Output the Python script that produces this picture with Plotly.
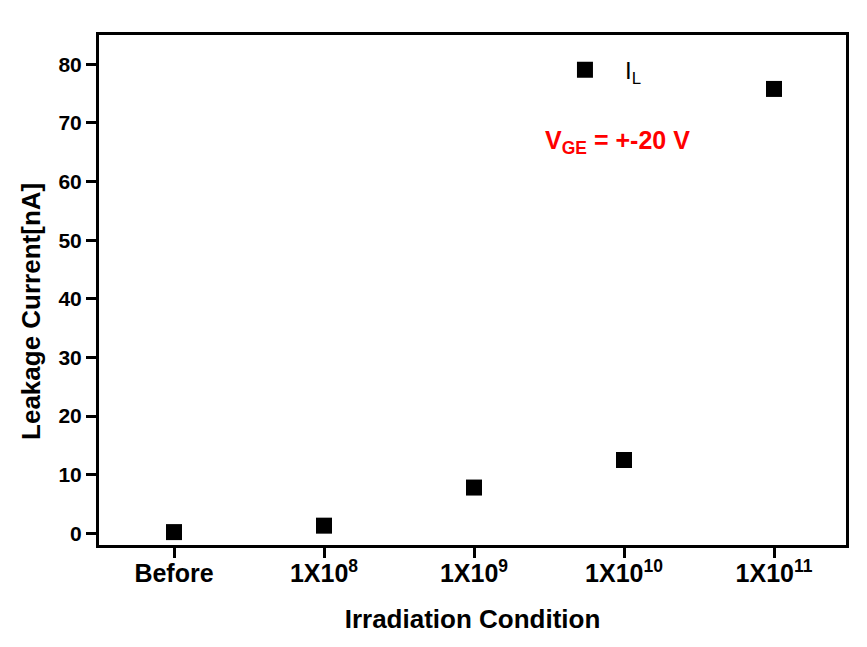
import plotly.graph_objects as go

categories = ["Before", "1X10<sup>8</sup>", "1X10<sup>9</sup>", "1X10<sup>10</sup>", "1X10<sup>11</sup>"]
leakage_nA = [0.2, 1.3, 7.8, 12.5, 75.8]
y_ticks = [0, 10, 20, 30, 40, 50, 60, 70, 80]

FONT = "Liberation Sans, Arial, sans-serif"

fig = go.Figure()
fig.add_trace(go.Scatter(
    x=list(range(len(categories))), y=leakage_nA, mode="markers",
    name="I<sub>L</sub>",
    marker=dict(symbol="square", size=16, color="black"),
))

fig.update_layout(
    width=867, height=647,
    margin=dict(l=91, r=29, t=27, b=110),
    plot_bgcolor="white", paper_bgcolor="white",
    font=dict(family=FONT, color="black"),
    showlegend=True,
    legend=dict(x=0.597, y=0.975, xanchor="left", yanchor="top",
                bgcolor="rgba(0,0,0,0)", itemwidth=70,
                font=dict(size=24, family=FONT, color="black")),
    annotations=[
        dict(
            x=0.694, y=0.79, xref="paper", yref="paper", showarrow=False,
            xanchor="center", yanchor="middle",
            text="V<sub>GE</sub> = +-20 V",
            font=dict(size=25, family=FONT, color="#ff0000", weight="bold"),
        ),
        dict(
            x=-0.091, y=0.457, xref="paper", yref="paper", showarrow=False,
            xanchor="center", yanchor="middle", textangle=-90,
            text="Leakage Current[nA]",
            font=dict(size=26, family=FONT, color="black", weight="bold"),
        ),
    ],
)

fig.update_xaxes(
    range=[-0.5, 4.48], tickmode="array",
    tickvals=list(range(len(categories))), ticktext=categories,
    showline=True, mirror=True, linewidth=3, linecolor="black",
    ticks="outside", ticklen=10, tickwidth=3, tickcolor="black",
    showgrid=False, zeroline=False, ticklabelstandoff=-6,
    tickfont=dict(size=25, family=FONT, weight="bold"),
    title=dict(text="Irradiation Condition", standoff=24,
               font=dict(size=26, family=FONT, weight="bold")),
)
fig.update_yaxes(
    range=[-2, 85], tickmode="array", tickvals=y_ticks,
    showline=True, mirror=True, linewidth=3, linecolor="black",
    ticks="outside", ticklen=10, tickwidth=3, tickcolor="black",
    showgrid=False, zeroline=False,
    tickfont=dict(size=21, family=FONT, weight="bold"),
)

fig.write_html("out.html")
